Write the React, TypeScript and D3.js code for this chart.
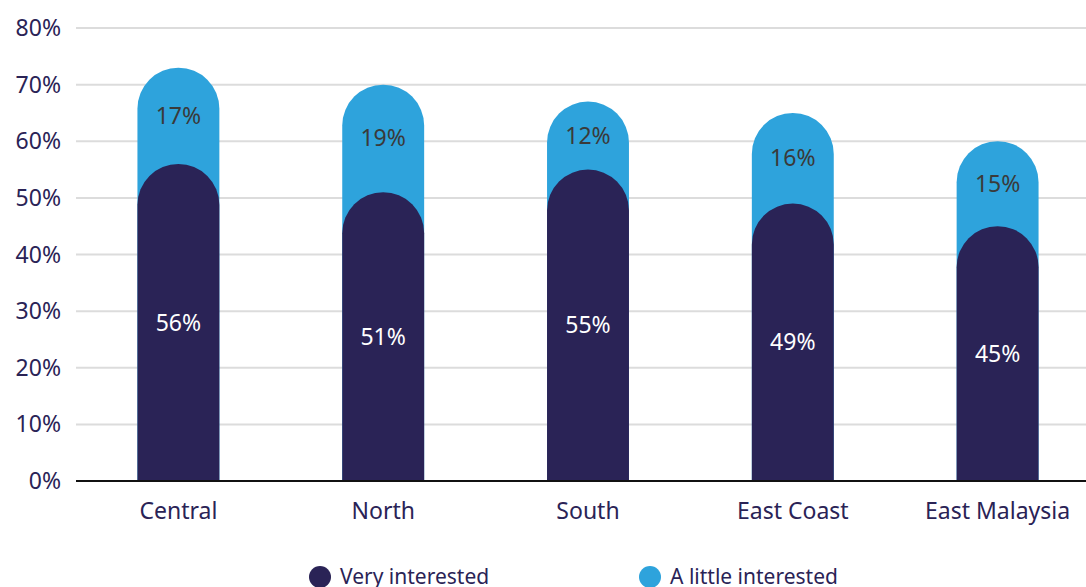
import React from "react";
import * as d3 from "d3";

const categories = ["Central", "North", "South", "East Coast", "East Malaysia"];
const veryInterested = [56, 51, 55, 49, 45];
const littleInterested = [17, 19, 12, 16, 15];
const yTicks = [0, 10, 20, 30, 40, 50, 60, 70, 80];
const seriesNames = ["Very interested", "A little interested"];

const W = 1086;
const H = 587;
const DARK = "#2a2356";
const LIGHT = "#2ea3dc";
const FONT = "'Noto Sans', 'Open Sans', sans-serif";

function roundTop(x: number, w: number, top: number, bottom: number) {
  const r = w / 2;
  return `M${x},${bottom} L${x},${top + r} A${r},${r} 0 0 1 ${x + w},${top + r} L${x + w},${bottom} Z`;
}

export default function App() {
  const x = d3.scaleBand<string>().domain(categories).range([76, 1100]).paddingInner(0.6).paddingOuter(0.3);
  const y = d3.scaleLinear().domain([0, 80]).range([481, 28]);
  const bw = x.bandwidth();
  const base = y(0);

  return (
    <svg width={W} height={H} style={{ position: "absolute", left: 0, top: 0, background: "#fff" }} fontFamily={FONT}>
      {yTicks.map((t) => (
        <g key={t}>
          {t > 0 && <line x1={76} x2={W} y1={y(t)} y2={y(t)} stroke="#dcdcdc" strokeWidth={2} />}
          <text x={61} y={y(t)} dy="0.35em" textAnchor="end" fontSize={23} fill={DARK}>
            {t}%
          </text>
        </g>
      ))}
      {categories.map((c, i) => {
        const x0 = x(c)!;
        const total = veryInterested[i] + littleInterested[i];
        const cx = x0 + bw / 2;
        return (
          <g key={c}>
            <path d={roundTop(x0, bw, y(total), base)} fill={LIGHT} />
            <path d={roundTop(x0, bw, y(veryInterested[i]), base)} fill={DARK} />
            <text x={cx} y={y(veryInterested[i] + littleInterested[i] / 2)} dy="0.35em" textAnchor="middle" fontSize={23} fill="#3a3a3a">
              {littleInterested[i]}%
            </text>
            <text x={cx} y={y(veryInterested[i] / 2)} dy="0.35em" textAnchor="middle" fontSize={23} fill="#ffffff">
              {veryInterested[i]}%
            </text>
            <text x={cx} y={511} dy="0.35em" textAnchor="middle" fontSize={23} fill={DARK}>
              {c}
            </text>
          </g>
        );
      })}
      <line x1={76} x2={W} y1={base} y2={base} stroke="#111" strokeWidth={2} />
      {seriesNames.map((s, i) => {
        const lx = i === 0 ? 320 : 650;
        return (
          <g key={s}>
            <circle cx={lx} cy={577} r={11} fill={i === 0 ? DARK : LIGHT} />
            <text x={lx + 20} y={584} fontSize={21} fill={DARK}>
              {s}
            </text>
          </g>
        );
      })}
    </svg>
  );
}
